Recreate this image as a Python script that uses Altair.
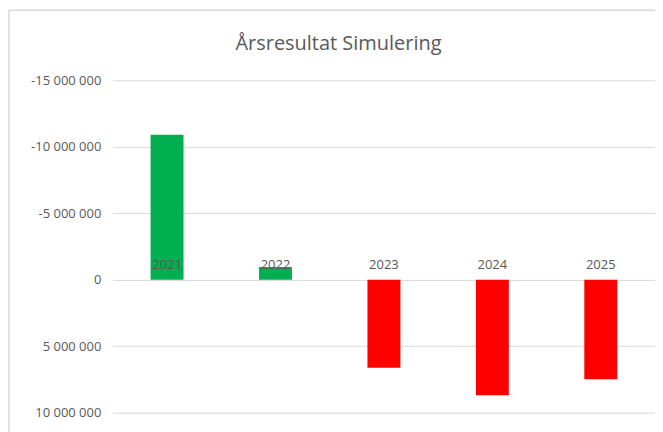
import altair as alt
import pandas as pd

years = ["2021", "2022", "2023", "2024", "2025"]
results = [-10900000, -950000, 6620000, 8680000, 7480000]
bar_colors = ["#00B050", "#00B050", "#FF0000", "#FF0000", "#FF0000"]
y_ticks = [-15000000, -10000000, -5000000, 0, 5000000, 10000000]
chart_title = "Årsresultat Simulering"

df = pd.DataFrame({"year": years, "value": results, "color": bar_colors, "zero": [0] * 5})

label_expr = "replace(replace(replace(format(datum.value, ','), ',', ' '), ',', ' '), '\u2212', '-')"

x_enc = alt.X("year:N", sort=years, axis=None, scale=alt.Scale(paddingInner=0, paddingOuter=0))
y_scale = alt.Scale(domain=[-15000000, 10000000], reverse=True, nice=False, zero=False)

bars = alt.Chart(df).mark_bar(size=33).encode(
    x=x_enc,
    y=alt.Y("value:Q", scale=y_scale, title=None,
            axis=alt.Axis(values=y_ticks, labelExpr=label_expr, domain=False, ticks=False,
                          gridColor="#d9d9d9", gridWidth=1, labelColor="#595959",
                          labelFontSize=13, labelPadding=12, labelFont="Open Sans")),
    y2="zero:Q",
    color=alt.Color("color:N", scale=None),
)

labels = alt.Chart(df).mark_text(dy=-15, fontSize=13, color="#595959", font="Open Sans").encode(
    x=x_enc,
    y=alt.Y("zero:Q", scale=y_scale),
    text="year:N",
)

border = alt.Chart(pd.DataFrame({"a": [0]})).mark_rect(
    fill=None, stroke="#d9d9d9", strokeWidth=1.5
).encode(
    x=alt.value(-104), x2=alt.value(620), y=alt.value(-70), y2=alt.value(420)
)

title = alt.Chart(pd.DataFrame({"t": [chart_title]})).mark_text(
    fontSize=20, font="Open Sans", color="#595959", baseline="middle", align="center"
).encode(
    x=alt.value(226), y=alt.value(-36), text="t:N"
)

chart = alt.layer(border, bars, labels, title).properties(
    width=543,
    height=333,
    autosize=alt.AutoSizeParams(type="none"),
    padding={"left": 105, "top": 72, "right": 0, "bottom": 19},
).configure_view(stroke=None)

chart.save("out.html", embed_options={"renderer": "svg", "actions": False})
